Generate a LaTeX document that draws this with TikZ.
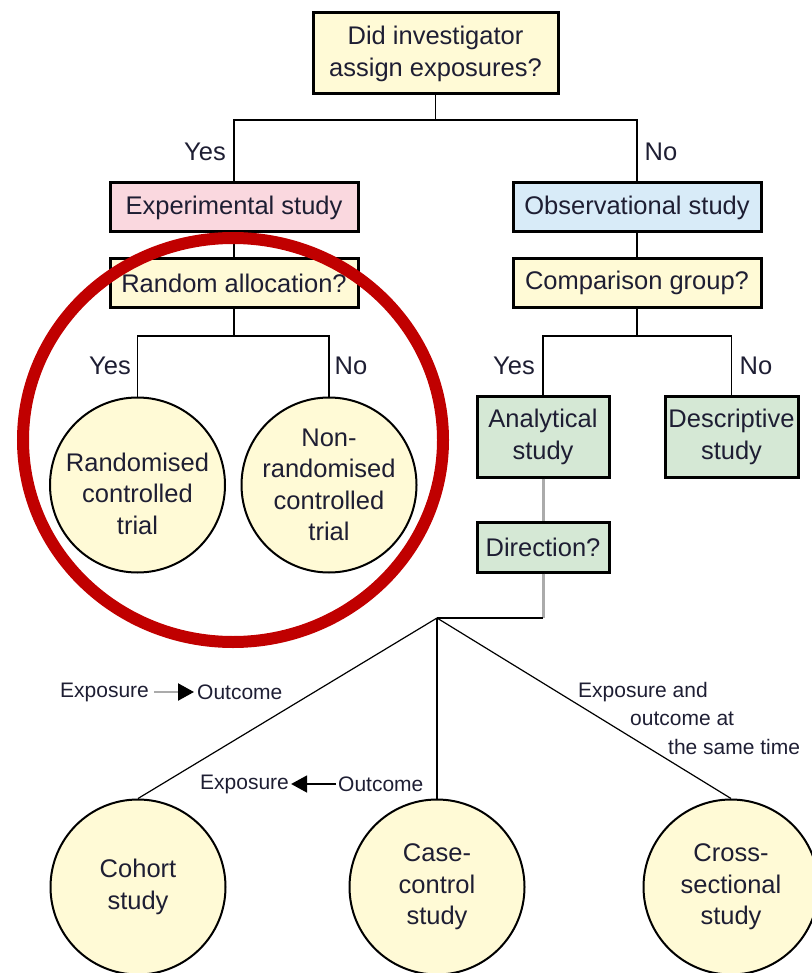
\documentclass[tikz,border=0pt]{standalone}
\usepackage{fontspec}
\setmainfont{Liberation Sans}
\usetikzlibrary{arrows.meta}
\definecolor{txt}{HTML}{1E1E33}
\definecolor{yel}{HTML}{FFFAD6}
\definecolor{pnk}{HTML}{FAD8DF}
\definecolor{blu}{HTML}{D8EBF8}
\definecolor{grn}{HTML}{D5E8D5}
\definecolor{redc}{HTML}{C00000}
\definecolor{gln}{HTML}{ABABAB}
\tikzset{
  boxn/.style={draw=black, line width=3pt, inner sep=0pt, align=center, text=txt,
    font=\fontsize{25.5}{32}\selectfont},
  circn/.style={circle, draw=black, line width=2pt, fill=yel, minimum size=175pt, inner sep=0pt,
    align=center, text=txt, font=\fontsize{25.5}{31.5}\selectfont},
  lbl/.style={text=txt, font=\fontsize{25.5}{31}\selectfont, inner sep=0pt},
  small/.style={text=txt, font=\fontsize{21}{27}\selectfont, inner sep=0pt},
  conn/.style={draw=black, line width=1.4pt},
  gconn/.style={draw=gln, line width=3pt},
  headtip/.style={-{Triangle[color=black, length=16pt, width=17pt]}},
}
\begin{document}
\begin{tikzpicture}[x=1pt,y=-1pt]
\useasboundingbox (0,0) rectangle (811,973);
% top
\node[boxn, fill=yel, minimum width=245pt, minimum height=81pt] (q1) at (435.5,53.5) {Did investigator\\assign exposures?};
\coordinate (j1) at (435.5,120);
\node[boxn, fill=pnk, minimum width=248pt, minimum height=49pt] (exp) at (234,207.5) {Experimental study};
\node[boxn, fill=blu, minimum width=248pt, minimum height=49pt] (obs) at (637,207.5) {Observational study};
\draw[conn] (q1.south) -- (j1);
\draw[conn] (exp.north) -- (exp.north |- j1) -- (obs.north |- j1) -- (obs.north);
\node[lbl] (y1) at (205,152) {Yes};
\node[lbl] (n1) at (661,152) {No};
% left branch
\node[boxn, fill=yel, minimum width=248pt, minimum height=49pt] (ra) at (234,283) {Random allocation?};
\draw[conn] (exp.south) -- (ra.north);
\coordinate (j2) at (234,336);
\node[circn] (rct) at (137.5,485) {\rule{0pt}{36pt}Randomised\\controlled\\trial};
\node[circn] (nrct) at (329,485) {Non-\\randomised\\controlled\\trial};
\draw[conn] (ra.south) -- (j2);
\draw[conn] (rct.north) -- (rct.north |- j2) -- (nrct.north |- j2) -- (nrct.north);
\node[lbl] (y2) at (110,366) {Yes};
\node[lbl] (n2) at (351,366) {No};
% right branch
\node[boxn, fill=yel, minimum width=248pt, minimum height=49pt] (cg) at (637,283) {Comparison group?};
\draw[conn] (obs.south) -- (cg.north);
\coordinate (j3) at (637,336);
\node[boxn, fill=grn, minimum width=132pt, minimum height=81pt] (ana) at (543,436.5) {Analytical\\study};
\node[boxn, fill=grn, minimum width=133pt, minimum height=81pt] (des) at (731.5,436.5) {Descriptive\\study};
\draw[conn] (cg.south) -- (j3);
\draw[conn] (ana.north) -- (ana.north |- j3) -- (des.north |- j3) -- (des.north);
\node[lbl] (y3) at (514,366) {Yes};
\node[lbl] (n3) at (756,366) {No};
\node[boxn, fill=grn, minimum width=132pt, minimum height=50pt] (dir) at (543,547) {Direction?};
\draw[gconn] (ana.south) -- (dir.north);
\coordinate (j4) at (437,618);
\coordinate (j5) at (543,618);
\draw[gconn] (dir.south) -- (j5);
\draw[conn, line width=1.2pt] (j5) -- (j4);
% bottom circles
\node[circn] (coh) at (138,887) {Cohort\\study};
\node[circn] (cc) at (437,887) {Case-\\control\\study};
\node[circn] (cs) at (731,887) {Cross-\\sectional\\study};
\draw[conn, line width=1.2pt] (j4) -- (coh.north);
\draw[conn, line width=1.2pt] (j4) -- (cc.north);
\draw[conn, line width=1.2pt] (j4) -- (cs.north);
% direction labels
\node[small, anchor=west] (e1) at (60,692) {Exposure};
\node[small, anchor=west] (o1) at (197,692) {Outcome};
\draw[draw=gln, line width=2.2pt, headtip] ([xshift=5pt]e1.east) -- ([xshift=-3pt]o1.west);
\node[small, anchor=west] (e2) at (200,784) {Exposure};
\node[small, anchor=west] (o2) at (338,784) {Outcome};
\draw[draw=black, line width=1.8pt, headtip] ([xshift=-2pt]o2.west) -- ([xshift=2pt]e2.east);
\node[small, anchor=west] (t1) at (578,692) {Exposure and};
\node[small, anchor=west] (t2) at (630,719) {outcome at};
\node[small, anchor=west] (t3) at (668,747) {the same time};
% red highlight
\draw[redc, line width=12pt] (233,440) ellipse [x radius=210, y radius=202];
\end{tikzpicture}
\end{document}
